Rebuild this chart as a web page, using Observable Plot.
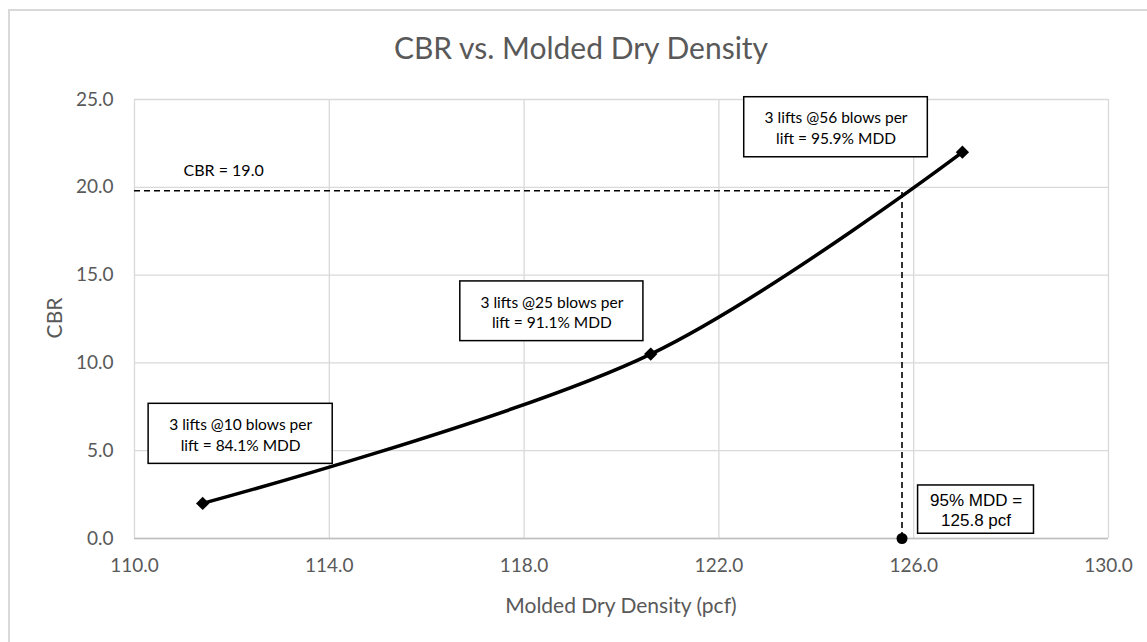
<!DOCTYPE html>
<html><head><meta charset="utf-8">
<script src="https://cdn.jsdelivr.net/npm/d3@7"></script>
<script src="https://cdn.jsdelivr.net/npm/@observablehq/plot@0.6"></script>
<style>
body{margin:0;background:#fff;}
#wrap{position:relative;width:1147px;height:642px;overflow:hidden;font-family:Lato, "Open Sans", sans-serif;color:#595959;}
#border{position:absolute;left:8px;top:9px;width:1170px;height:670px;border:2px solid #d9d9d9;box-sizing:border-box;}
#chart{position:absolute;left:0;top:0;}
.lbl{position:absolute;white-space:nowrap;transform:translate(-50%,-50%);}
#title{left:581px;top:47px;font-size:30px;}
#xlabel{left:621px;top:604px;font-size:21px;}
#ylabel{left:53px;top:318px;font-size:21px;transform:translate(-50%,-50%) rotate(-90deg);}
</style>
</head><body>
<div id="wrap">
  <div id="border"></div>
  <div id="chart"></div>
  <div class="lbl" id="title">CBR vs. Molded Dry Density</div>
  <div class="lbl" id="xlabel">Molded Dry Density (pcf)</div>
  <div class="lbl" id="ylabel">CBR</div>
</div>
<script>
// Data
const density = [111.4, 120.6, 127.0];
const cbr = [2.0, 10.5, 22.0];
const xTicks = [110, 114, 118, 122, 126, 130];
const yTicks = [0, 5, 10, 15, 20, 25];
const targetDensity = 125.76;
const targetCBR = 19.8;

// Annotation boxes (data units)
const boxText = ["3 lifts @10 blows per\nlift = 84.1% MDD", "3 lifts @25 blows per\nlift = 91.1% MDD", "3 lifts @56 blows per\nlift = 95.9% MDD"];
const boxX1 = [110.29, 116.69, 122.52];
const boxX2 = [114.07, 120.45, 126.29];
const boxY1 = [4.25, 11.24, 21.71];
const boxY2 = [7.67, 14.64, 25.13];
const mddText = "95% MDD =\n125.8 pcf";
const mddBox = {x1: 126.09, x2: 128.47, y1: 0.27, y2: 3.02};
const cbrLabel = "CBR = 19.0";
const cbrLabelPos = {x: 111.83, y: 20.96};

const points = density.map((d, i) => ({x: d, y: cbr[i]}));
const boxes = boxText.map((t, i) => ({text: t, x1: boxX1[i], x2: boxX2[i], y1: boxY1[i], y2: boxY2[i]}));
const fmt = d => d.toFixed(1);

const chart = Plot.plot({
  width: 1147, height: 642,
  marginLeft: 134, marginRight: 39, marginTop: 99, marginBottom: 104,
  style: {fontFamily: "Lato, 'Open Sans', sans-serif", fontSize: "19px", color: "#595959", background: "transparent", overflow: "visible"},
  x: {domain: [110, 130], label: null},
  y: {domain: [0, 25], label: null},
  marks: [
    Plot.gridX(xTicks, {stroke: "#d9d9d9", strokeOpacity: 1, strokeWidth: 1.3}),
    Plot.gridY(yTicks, {stroke: "#d9d9d9", strokeOpacity: 1, strokeWidth: 1.3}),
    Plot.ruleY([0], {stroke: "#bfbfbf", strokeWidth: 1.5}),
    Plot.axisX(xTicks, {tickSize: 0, tickPadding: 20, tickFormat: fmt, label: null, fill: "#595959"}),
    Plot.axisY(yTicks, {tickSize: 0, tickPadding: 21, tickFormat: fmt, label: null, fill: "#595959"}),
    Plot.ruleY([targetCBR], {x1: 110, x2: targetDensity, stroke: "black", strokeWidth: 1.6, strokeDasharray: "6,4"}),
    Plot.ruleX([targetDensity], {y1: 0, y2: targetCBR, stroke: "black", strokeWidth: 1.6, strokeDasharray: "6,4"}),
    Plot.rect(boxes, {x1: "x1", x2: "x2", y1: "y1", y2: "y2", fill: "white", stroke: "black", strokeWidth: 1.5}),
    Plot.text(boxes, {x: d => (d.x1 + d.x2) / 2, y: d => (d.y1 + d.y2) / 2, text: "text", fill: "black", fontSize: 15.5, lineHeight: 1.35, fontFamily: "Lato, sans-serif"}),
    Plot.rect([mddBox], {x1: "x1", x2: "x2", y1: "y1", y2: "y2", fill: "white", stroke: "black", strokeWidth: 1.5}),
    Plot.text([mddBox], {x: d => (d.x1 + d.x2) / 2, y: d => (d.y1 + d.y2) / 2, text: () => mddText, fill: "black", fontSize: 17, lineHeight: 1.2, fontFamily: "'Liberation Sans', Arial, sans-serif"}),
    Plot.text([cbrLabelPos], {x: "x", y: "y", text: () => cbrLabel, fill: "black", fontSize: 16, fontFamily: "Lato, sans-serif"}),
    Plot.line(points, {x: "x", y: "y", curve: "catmull-rom", stroke: "black", strokeWidth: 3.5}),
    Plot.dot(points, {x: "x", y: "y", symbol: "diamond2", r: 6, fill: "black", stroke: "none"}),
    Plot.dot([{x: targetDensity, y: 0}], {x: "x", y: "y", r: 5.5, fill: "black", stroke: "none"})
  ]
});
document.getElementById("chart").appendChild(chart);
</script>
</body></html>
